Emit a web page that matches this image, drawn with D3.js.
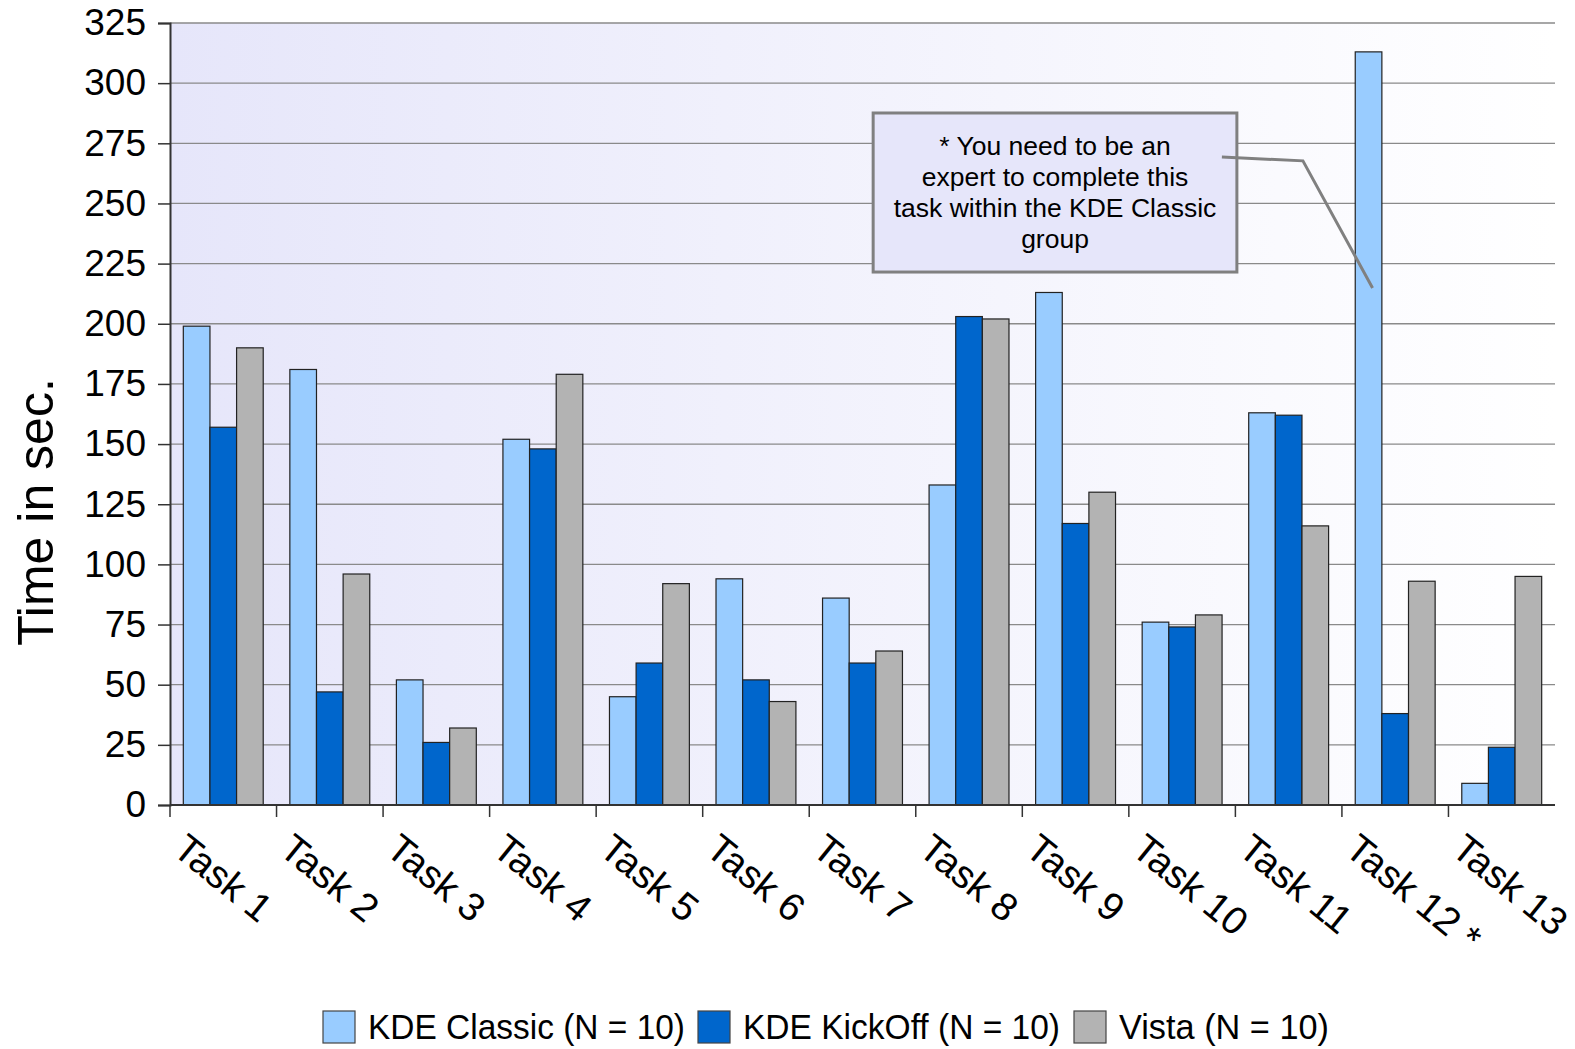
<!DOCTYPE html>
<html><head><meta charset="utf-8">
<script src="https://cdn.jsdelivr.net/npm/d3@7"></script>
<style>html,body{margin:0;padding:0;background:#fff;}svg{display:block;font-family:"Liberation Sans",Arial,sans-serif;}</style>
</head><body>
<svg id="c" width="1575" height="1049"></svg>
<script>
const tasks = ["Task 1","Task 2","Task 3","Task 4","Task 5","Task 6","Task 7","Task 8","Task 9","Task 10","Task 11","Task 12 *","Task 13"];
const seriesNames = ["KDE Classic (N = 10)","KDE KickOff (N = 10)","Vista (N = 10)"];
const kdeClassic = [199,181,52,152,45,94,86,133,213,76,163,313,9];
const kdeKickoff = [157,47,26,148,59,52,59,203,117,74,162,38,24];
const vista = [190,96,32,179,92,43,64,202,130,79,116,93,95];
const yTicks = [0,25,50,75,100,125,150,175,200,225,250,275,300,325];
const colors = ["#99ccff","#0066cc","#b3b3b3"];
const noteLines = ["* You need to be an","expert to complete this","task within the KDE Classic","group"];

const svg = d3.select("#c");
const L=170, R=1555, T=23, B=805;
const x = d3.scaleBand().domain(tasks).range([L,R]);
const xs = d3.scaleBand().domain(seriesNames).range([0,x.bandwidth()]).paddingOuter(0.5);
const y = d3.scaleLinear().domain([0,325]).range([B,T]);
const bw = x.bandwidth();

const defs = svg.append("defs");
const g = defs.append("linearGradient").attr("id","bg").attr("x1","0").attr("x2","1").attr("y1","0").attr("y2","0");
g.append("stop").attr("offset","0").attr("stop-color","#e6e6fa");
g.append("stop").attr("offset","1").attr("stop-color","#ffffff");
svg.append("rect").attr("x",L).attr("y",T).attr("width",R-L).attr("height",B-T).attr("fill","url(#bg)");

// gridlines
svg.append("g").selectAll("line").data(yTicks.filter(d=>d>0)).join("line")
  .attr("x1",L).attr("x2",R).attr("y1",d=>y(d)).attr("y2",d=>y(d))
  .attr("stroke","#8a8a8a").attr("stroke-width",1.3);

// y axis
const ya = svg.append("g").attr("transform",`translate(${L},0)`)
  .call(d3.axisLeft(y).tickValues(yTicks).tickSize(12).tickPadding(12));
ya.select(".domain").attr("stroke","#333").attr("stroke-width",2);
ya.selectAll(".tick line").attr("stroke","#333").attr("stroke-width",1.5);
ya.selectAll(".tick text").attr("font-size",37).attr("fill","#000").attr("font-family","Liberation Sans, Arial, sans-serif");

// bars
const data = tasks.map((t,i)=>({task:t, vals:[kdeClassic[i],kdeKickoff[i],vista[i]]}));
const grp = svg.append("g").selectAll("g").data(data).join("g").attr("transform",d=>`translate(${x(d.task)},0)`);
grp.selectAll("rect").data(d=>d.vals.map((v,j)=>({v,s:seriesNames[j],j}))).join("rect")
  .attr("x",d=>xs(d.s)).attr("width",xs.bandwidth())
  .attr("y",d=>y(d.v)).attr("height",d=>y(0)-y(d.v))
  .attr("fill",d=>colors[d.j]).attr("stroke","#222").attr("stroke-width",1.2);

// x axis
svg.append("line").attr("x1",L).attr("x2",R).attr("y1",B).attr("y2",B).attr("stroke","#333").attr("stroke-width",2);
svg.append("g").selectAll("line").data(tasks).join("line")
  .attr("x1",d=>x(d)).attr("x2",d=>x(d)).attr("y1",B).attr("y2",B+12).attr("stroke","#333").attr("stroke-width",1.5);
svg.append("g").selectAll("text").data(tasks).join("text")
  .attr("transform",d=>`translate(${x(d)+1},${B+48}) rotate(39)`)
  .attr("font-size",39).attr("fill","#000").text(d=>d);

// y title
svg.append("text").attr("transform",`translate(53,512) rotate(-90)`)
  .attr("text-anchor","middle").attr("font-size",50).attr("fill","#000").text("Time in sec.");

// annotation
const boxL = x("Task 7")+bw*0.6, boxR = x("Task 11")+1.5;
const by0 = y(287.6), by1 = y(221.5);
svg.append("rect").attr("x",boxL).attr("y",by0).attr("width",boxR-boxL).attr("height",by1-by0)
  .attr("fill","#e6e6fa").attr("stroke","#808080").attr("stroke-width",3);
const cx = (boxL+boxR)/2;
svg.append("g").selectAll("text").data(noteLines).join("text")
  .attr("x",cx).attr("y",(d,i)=>by0+42+i*31).attr("text-anchor","middle")
  .attr("font-size",26.5).attr("fill","#000").text(d=>d);
const c12 = x("Task 12 *")+xs(seriesNames[0]);
svg.append("polyline")
  .attr("points",[[x("Task 11")-13.5,y(269.3)],[x("Task 12 *")-39,y(267.7)],[c12+xs.bandwidth()*0.65,y(214.9)]].map(p=>p.join(",")).join(" "))
  .attr("fill","none").attr("stroke","#808080").attr("stroke-width",3);

// legend
const lg = svg.append("g");
const legX = [323,698,1074], legW=[317,317,210];
seriesNames.forEach((s,i)=>{
  lg.append("rect").attr("x",legX[i]).attr("y",1011).attr("width",32).attr("height",32).attr("fill",colors[i]).attr("stroke","#444").attr("stroke-width",1.2);
  lg.append("text").attr("x",legX[i]+45).attr("y",1039).attr("font-size",35).attr("fill","#000")
    .attr("textLength",legW[i]).attr("lengthAdjust","spacingAndGlyphs").text(s);
});
</script>
</body></html>
